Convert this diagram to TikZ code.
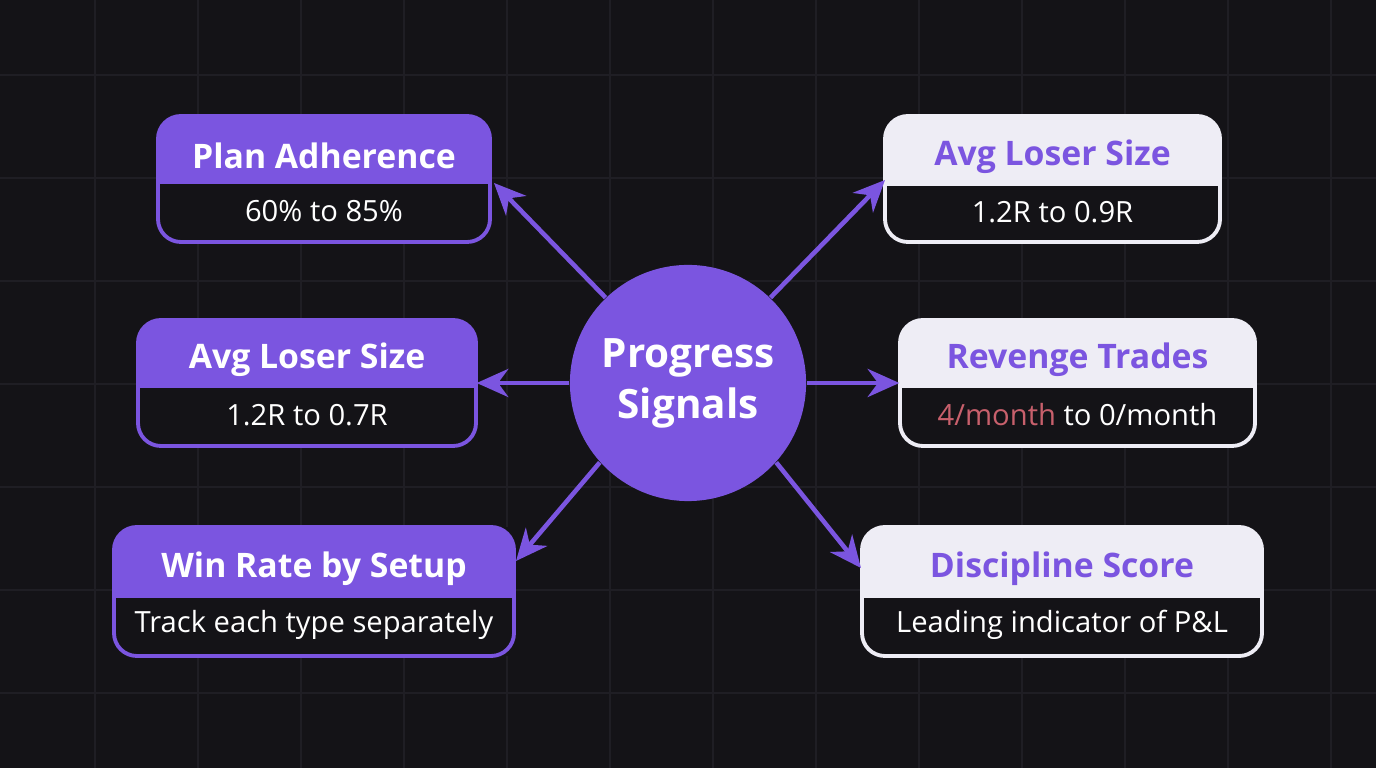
\documentclass[tikz,border=0pt]{standalone}
\usepackage{fontspec}
\setmainfont{Open Sans}
\usetikzlibrary{arrows.meta}
\definecolor{bg}{HTML}{141317}
\definecolor{gridc}{HTML}{1F1E24}
\definecolor{purp}{HTML}{7B55E0}
\definecolor{lite}{HTML}{EEEDF5}
\definecolor{redt}{HTML}{C8606C}
\tikzset{
  conn/.style={draw=purp,line width=1.3pt,-{Stealth[length=9pt,width=8pt]}},
  ttl/.style={font=\fontsize{9.6}{12}\selectfont\bfseries},
  sub/.style={font=\fontsize{8.3}{10}\selectfont,text=white},
}
\newcommand\sigbox[9]{%
  \path[fill=bg] (#2,#3) rectangle (#4,#5);
  \begin{scope}
    \clip[rounded corners=6.5pt] (#2,#3) rectangle (#4,#5);
    \fill[#7] (#2,#3) rectangle (#4,#6);
  \end{scope}
  \draw[#8,line width=1.1pt,rounded corners=6.5pt] (#2,#3) rectangle (#4,#5);
  \draw[#8,line width=1.1pt] (#2,#6) -- (#4,#6);
  \node[inner sep=0,minimum width={(#4-#2)*0.01cm},minimum height={(#5-#3)*0.01cm}] (#1) at ({(#2+#4)/2},{(#3+#5)/2}) {};
  \node[ttl,text=#9] (#1t) at ({(#2+#4)/2},{(#3+#6)/2+7}) {\csname ttl#1\endcsname};
  \node[sub] (#1s) at ({(#2+#4)/2},{(#6+#5)/2-1}) {\csname sub#1\endcsname};
}
\begin{document}
\begin{tikzpicture}[x=0.01cm,y=-0.01cm]
\fill[bg] (0,0) rectangle (1376,768);
\useasboundingbox (0,0) rectangle (1376,768);
\foreach \x in {95,198,301,404,507,610,713,816,919,1022,1125,1228,1331}
  \draw[gridc,line width=0.6pt] (\x,0) -- (\x,768);
\foreach \y in {75,178,281,384,487,590,693}
  \draw[gridc,line width=0.6pt] (0,\y) -- (1376,\y);
\def\ttlla{Plan Adherence}\def\subla{60\% to 85\%}
\def\ttllb{Avg Loser Size}\def\sublb{1.2R to 0.7R}
\def\ttllc{Win Rate by Setup}\def\sublc{Track each type separately}
\def\ttlra{Avg Loser Size}\def\subra{1.2R to 0.9R}
\def\ttlrb{Revenge Trades}\def\subrb{\textcolor{redt}{4/month} to 0/month}
\def\ttlrc{Discipline Score}\def\subrc{Leading indicator of P\&L}
\sigbox{la}{158}{116}{490}{242}{182}{purp}{purp}{white}
\sigbox{lb}{138}{320}{476}{446}{386}{purp}{purp}{white}
\sigbox{lc}{114}{527}{514}{656}{596}{purp}{purp}{white}
\sigbox{ra}{885}{116}{1220}{242}{184}{lite}{lite}{purp}
\sigbox{rb}{900}{320}{1255}{446}{386}{lite}{lite}{purp}
\sigbox{rc}{862}{527}{1262}{656}{596}{lite}{lite}{purp}
\node[circle,fill=purp,minimum size=2.36cm,inner sep=0,align=center,
  font=\fontsize{11.5}{14.5}\selectfont\bfseries,text=white] (c) at (688,383) {Progress\\Signals};
\coordinate (pla) at (494,183);
\coordinate (plc) at (516,561);
\coordinate (pra) at (885,180);
\coordinate (prc) at (861,568);
\draw[conn] (c.134) -- (pla);
\draw[conn] (c.180) -- (lb.east);
\draw[conn] (c.222) -- (plc);
\draw[conn] (c.46) -- (pra);
\draw[conn] (c.0) -- (rb.west);
\draw[conn] (c.318) -- (prc);
\end{tikzpicture}
\end{document}
